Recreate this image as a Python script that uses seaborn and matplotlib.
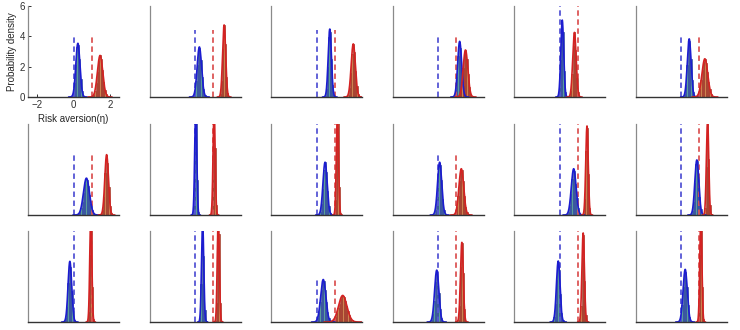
import numpy as np
import pandas as pd
import matplotlib
matplotlib.use("Agg")
import matplotlib.pyplot as plt
import seaborn as sns

sns.set_theme(style="white")
plt.rcParams["font.family"] = ["Liberation Sans", "DejaVu Sans"]

# Posterior of the risk-aversion parameter eta, one panel per participant (row-major, 3 x 6)
blue_mean = [0.24, 0.24, 0.73, 1.19, 0.15, 0.45,
             0.71, 0.04, 0.47, 0.09, 0.78, 0.87,
             -0.20, 0.42, 0.37, -0.07, -0.07, 0.23]
blue_peak = [3.54, 3.30, 4.48, 3.67, 5.07, 3.83,
             2.43, 7.00, 3.48, 3.48, 3.05, 3.63,
             4.00, 6.50, 2.80, 3.42, 4.02, 3.47]
red_mean = [1.46, 1.60, 2.02, 1.51, 0.82, 1.31,
            1.82, 1.05, 1.15, 1.28, 1.51, 1.46,
            0.95, 1.28, 1.44, 1.31, 1.30, 1.09]
red_peak = [2.74, 4.75, 3.50, 3.10, 4.26, 2.52,
            3.98, 7.00, 6.80, 3.05, 5.87, 6.20,
            7.00, 7.00, 1.75, 5.25, 5.87, 7.00]

# Reference values (dashed lines) and how far each line is drawn up
blue_ref = 0.0
red_ref = 1.0
ref_height = [4.04, 4.40, 4.40, 4.10, 6.00, 4.05,
              4.06, 6.00, 6.00, 4.02, 6.00, 6.00,
              6.00, 6.00, 2.98, 6.00, 6.00, 6.00]

x_ticks = [-2, 0, 2]
y_ticks = [0, 2, 4, 6]
x_range = (-2.5, 2.5)
y_range = (0, 6)

BIN = 0.07
edges = np.arange(x_range[0], x_range[1] + BIN / 2, BIN)
centers = (edges[:-1] + edges[1:]) / 2

styles = {
    "blue": dict(face="#5a9f9a", edge="#2a3aa0", line="#1c1cd0", dash="#5656d4"),
    "red": dict(face="#cc8450", edge="#9a2a22", line="#d42222", dash="#dc5656"),
}


def density(x, mu, peak):
    sd = 1.0 / (peak * np.sqrt(2 * np.pi))
    return peak * np.exp(-0.5 * ((x - mu) / sd) ** 2), sd


def draw_posterior(ax, mu, peak, st):
    w, sd = density(centers, mu, peak)
    keep = w > 0.02
    hist = pd.DataFrame({"eta": centers[keep], "w": w[keep]})
    sns.histplot(data=hist, x="eta", weights="w", bins=edges.tolist(), ax=ax,
                 stat="count", color=st["face"], edgecolor=st["edge"],
                 linewidth=0.45, alpha=1.0)
    xs = np.linspace(mu - 4.5 * sd, mu + 4.5 * sd, 200)
    ys, _ = density(xs, mu, peak)
    curve = pd.DataFrame({"eta": xs, "dens": ys})
    sns.lineplot(data=curve, x="eta", y="dens", ax=ax, color=st["line"],
                 linewidth=1.2, estimator=None)


W, H = 740, 330
col_left = [28, 149.5, 271, 392.5, 514, 635.5]
row_bottom = [97, 215, 322]
aw, ah = 91, 91

fig = plt.figure(figsize=(7.4, 3.3), dpi=100)
for i in range(18):
    r, c = divmod(i, 6)
    ax = fig.add_axes([col_left[c] / W, 1 - row_bottom[r] / H, aw / W, ah / H])

    ax.plot([blue_ref, blue_ref], [0, ref_height[i]], color=styles["blue"]["dash"],
            linestyle=(0, (3, 2)), linewidth=1.3)
    ax.plot([red_ref, red_ref], [0, ref_height[i]], color=styles["red"]["dash"],
            linestyle=(0, (3, 2)), linewidth=1.3)

    draw_posterior(ax, blue_mean[i], blue_peak[i], styles["blue"])
    draw_posterior(ax, red_mean[i], red_peak[i], styles["red"])

    ax.set_xlim(*x_range)
    ax.set_ylim(*y_range)
    for side in ("top", "right"):
        ax.spines[side].set_visible(False)
    ax.spines["left"].set_color("#8a8a8a")
    ax.spines["bottom"].set_color("#333333")
    ax.spines["left"].set_linewidth(0.9)
    ax.spines["bottom"].set_linewidth(1.0)
    ax.set_xlabel("")
    ax.set_ylabel("")

    if i == 0:
        ax.set_xticks(x_ticks)
        ax.set_yticks(y_ticks)
        ax.tick_params(axis="both", direction="in", length=2.5, width=0.7,
                       labelsize=7, pad=2, colors="#303030")
        ax.tick_params(axis="x", bottom=True)
        ax.tick_params(axis="y", left=True)
        ax.set_ylabel("Probability density", fontsize=7, labelpad=2)
        ax.set_xlabel("Risk aversion(η)", fontsize=7, labelpad=3)
    else:
        ax.set_xticks([])
        ax.set_yticks([])

fig.savefig("out.png", dpi=100)
